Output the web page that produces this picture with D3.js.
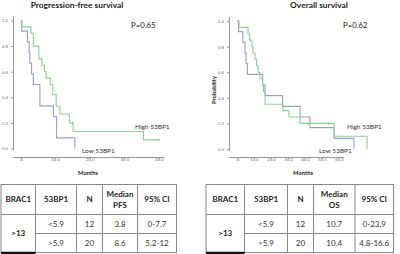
<!DOCTYPE html>
<html>
<head>
<meta charset="utf-8">
<script src="https://cdn.jsdelivr.net/npm/d3@7"></script>
<style>
  body { margin: 0; background: #fff; }
  svg { display: block; font-family: Lato, "Open Sans", sans-serif; }
</style>
</head>
<body>
<div id="chart"></div>
<script>
// Kaplan-Meier steps: [months, survival]
const pfsHigh = [[0,1],[0.4,0.95],[3.0,0.90],[3.7,0.80],[5.3,0.70],[6.2,0.65],[6.9,0.60],[7.4,0.55],[8.6,0.50],[9.3,0.42],[10.3,0.33],[11.4,0.27],[14.1,0.20],[15.2,0.133],[35.5,0.067],[40.1,0.067]];
const pfsLow = [[0,1],[0.35,0.917],[2.0,0.833],[2.5,0.75],[2.7,0.667],[3.2,0.583],[3.7,0.50],[5.6,0.333],[9.5,0.25],[10.4,0.083],[15.7,0]];
const pfsHighCensor = [[15.0,0.20],[40.0,0.067]];
const osHigh = [[0,1],[1.2,0.95],[6.5,0.90],[7.4,0.85],[8.8,0.80],[9.4,0.75],[10.6,0.70],[11.5,0.65],[12.4,0.60],[13.5,0.55],[15.0,0.50],[15.6,0.45],[16.5,0.35],[27.1,0.30],[30.6,0.25],[37.1,0.20],[57.1,0.10],[76.5,0]];
const osLow = [[0,1],[0.9,0.917],[3.4,0.833],[4.7,0.75],[5.3,0.667],[6.1,0.583],[15.1,0.50],[16.5,0.417],[26.8,0.333],[37.1,0.25],[42.9,0.167],[57.1,0.083],[68.8,0]];
const osHighCensor = [[7.8,0.85],[41.8,0.20],[54.1,0.20]];

const pfsTicks = [0, 10, 20, 30, 40];
const osTicks = [0, 10, 20, 30, 40, 50, 60];
const yTicks = [0, 0.2, 0.4, 0.6, 0.8, 1.0];

const tableHeader = ["BRAC1", "53BP1", "N", "Median|PFS", "95% CI"];
const osHeader = ["BRAC1", "53BP1", "N", "Median|OS", "95% CI"];
const groupLabel = ">13";
const pfsRows = [["<5.9", "12", "3.8", "0-7.7"], [">5.9", "20", "8.6", "5.2-12"]];
const osRows = [["<5.9", "12", "10.7", "0-23.9"], [">5.9", "20", "10.4", "4.8-16.6"]];

const green = "#86d68b", blue = "#9a9ade";

const svg = d3.select("#chart").append("svg")
  .attr("width", 400).attr("height", 254);

function drawKM(opt) {
  const x = d3.scaleLinear().domain([0, opt.xmax]).range(opt.xr);
  const y = d3.scaleLinear().domain([0, 1]).range(opt.yr);
  const g = svg.append("g");

  // axes
  const xAxis = d3.axisBottom(x).tickValues(opt.ticks).tickSize(2)
    .tickFormat(d => d === 0 ? ".0" : d.toFixed(1));
  const gx = g.append("g").attr("transform", `translate(0,${opt.axisY})`).call(xAxis);
  gx.select(".domain").attr("d", `M${opt.axisX},0.5H${opt.xEnd}`);
  const yAxis = d3.axisLeft(y).tickValues(yTicks).tickSize(2).tickFormat(d3.format(".1f"));
  const gy = g.append("g").attr("transform", `translate(${opt.axisX},0)`).call(yAxis);
  gy.select(".domain").attr("d", `M0.5,${opt.yr[1] - 4}V${opt.yr[0] + 2}`);
  g.selectAll(".domain").attr("stroke", "#999");
  g.selectAll(".tick line").attr("stroke", "#999");
  g.selectAll(".tick text").attr("fill", "#666").attr("font-size", 4.4)
    .attr("font-family", "Liberation Sans, sans-serif");
  gx.selectAll(".tick text").attr("dy", "0.3em").attr("y", 3);

  const line = d3.line().x(d => x(d[0])).y(d => y(d[1])).curve(d3.curveStepAfter);
  [[opt.low, blue], [opt.high, green]].forEach(([data, c]) => {
    g.append("path").datum(data).attr("d", line)
      .attr("fill", "none").attr("stroke", c).attr("stroke-width", 1.1);
  });
  g.selectAll(".cens").data(opt.censor).enter().append("line")
    .attr("x1", d => x(d[0])).attr("x2", d => x(d[0]))
    .attr("y1", d => y(d[1]) - 1.5).attr("y2", d => y(d[1]) + 1.5)
    .attr("stroke", green).attr("stroke-width", 1);

  g.append("text").attr("x", opt.titleX).attr("y", 8).attr("text-anchor", "middle")
    .attr("font-weight", "bold").attr("font-size", 8.4).attr("fill", "#222").text(opt.title);
  g.append("text").attr("x", opt.pX).attr("y", 28).attr("font-size", 7.8)
    .attr("fill", "#222").text(opt.p);
  g.append("text").attr("x", opt.highLab[0]).attr("y", opt.highLab[1]).attr("font-size", 6.5)
    .attr("fill", "#333").text("High 53BP1");
  g.append("text").attr("x", opt.lowLab[0]).attr("y", opt.lowLab[1]).attr("font-size", 6.5)
    .attr("fill", "#333").text("Low 53BP1");
  g.append("text").attr("x", opt.monthsX).attr("y", 175).attr("text-anchor", "middle")
    .attr("font-weight", "bold").attr("font-size", 5.8).attr("fill", "#222").text("Months");
  if (opt.ylab) {
    g.append("text").attr("transform", `translate(${opt.ylab[0]},${opt.ylab[1]}) rotate(-90)`)
      .attr("text-anchor", "middle").attr("font-weight", "bold").attr("font-size", 5.8)
      .attr("fill", "#222").text("Probability");
  }
}

drawKM({ xmax: 40, xr: [20.5, 159], yr: [148.5, 20.5], ticks: pfsTicks, axisY: 157, axisX: 13, xEnd: 164,
  high: pfsHigh, low: pfsLow, censor: pfsHighCensor, title: "Progression-free survival", titleX: 77,
  p: "P=0.65", pX: 131, highLab: [135, 128.5], lowLab: [82, 153], monthsX: 88 });
drawKM({ xmax: 60, xr: [237, 339], yr: [149, 21], ticks: osTicks, axisY: 157, axisX: 229, xEnd: 344,
  high: osHigh, low: osLow, censor: osHighCensor, title: "Overall survival", titleX: 319,
  p: "P=0.62", pX: 343, highLab: [347, 129], lowLab: [319, 152.5], monthsX: 303, ylab: [216, 90] });

function drawTable(cols, header, rows) {
  const top = 184.5, hb = 214.5, mid = 233.5, bot = 252.5;
  const g = svg.append("g");
  const cx = i => (cols[i] + cols[i + 1]) / 2;
  // grid
  g.append("rect").attr("x", cols[0]).attr("y", top).attr("width", cols[5] - cols[0])
    .attr("height", bot - top).attr("fill", "none").attr("stroke", "#888").attr("stroke-width", 1);
  cols.slice(1, 5).forEach(c => g.append("line").attr("x1", c).attr("x2", c).attr("y1", top).attr("y2", bot)
    .attr("stroke", "#888"));
  g.append("line").attr("x1", cols[0]).attr("x2", cols[5]).attr("y1", hb).attr("y2", hb).attr("stroke", "#888");
  g.append("line").attr("x1", cols[1]).attr("x2", cols[5]).attr("y1", mid).attr("y2", mid).attr("stroke", "#888");
  g.append("line").attr("x1", cols[0]).attr("x2", cols[1]).attr("y1", bot + 0.5).attr("y2", bot + 0.5)
    .attr("stroke", "#111").attr("stroke-width", 2.5);

  header.forEach((h, i) => {
    const parts = h.split("|");
    const t = g.append("text").attr("x", cx(i)).attr("text-anchor", "middle")
      .attr("font-weight", "bold").attr("font-size", 8).attr("fill", "#222");
    if (parts.length === 1) t.attr("y", 202).text(h);
    else parts.forEach((p, k) => t.append("tspan").attr("x", cx(i)).attr("y", 196.5 + k * 11).text(p));
  });
  g.append("text").attr("x", cx(0)).attr("y", 236).attr("text-anchor", "middle")
    .attr("font-weight", "bold").attr("font-size", 8).attr("fill", "#222").text(groupLabel);
  rows.forEach((r, j) => r.forEach((v, i) => {
    g.append("text").attr("x", cx(i + 1)).attr("y", j === 0 ? 226.5 : 245.5).attr("text-anchor", "middle")
      .attr("font-size", 8).attr("fill", "#333").text(v);
  }));
}

drawTable([1, 35.5, 76.5, 102.5, 137.5, 176.5], tableHeader, pfsRows);
drawTable([206, 244.5, 287.5, 313.5, 355, 393.5], osHeader, osRows);
</script>
</body>
</html>
